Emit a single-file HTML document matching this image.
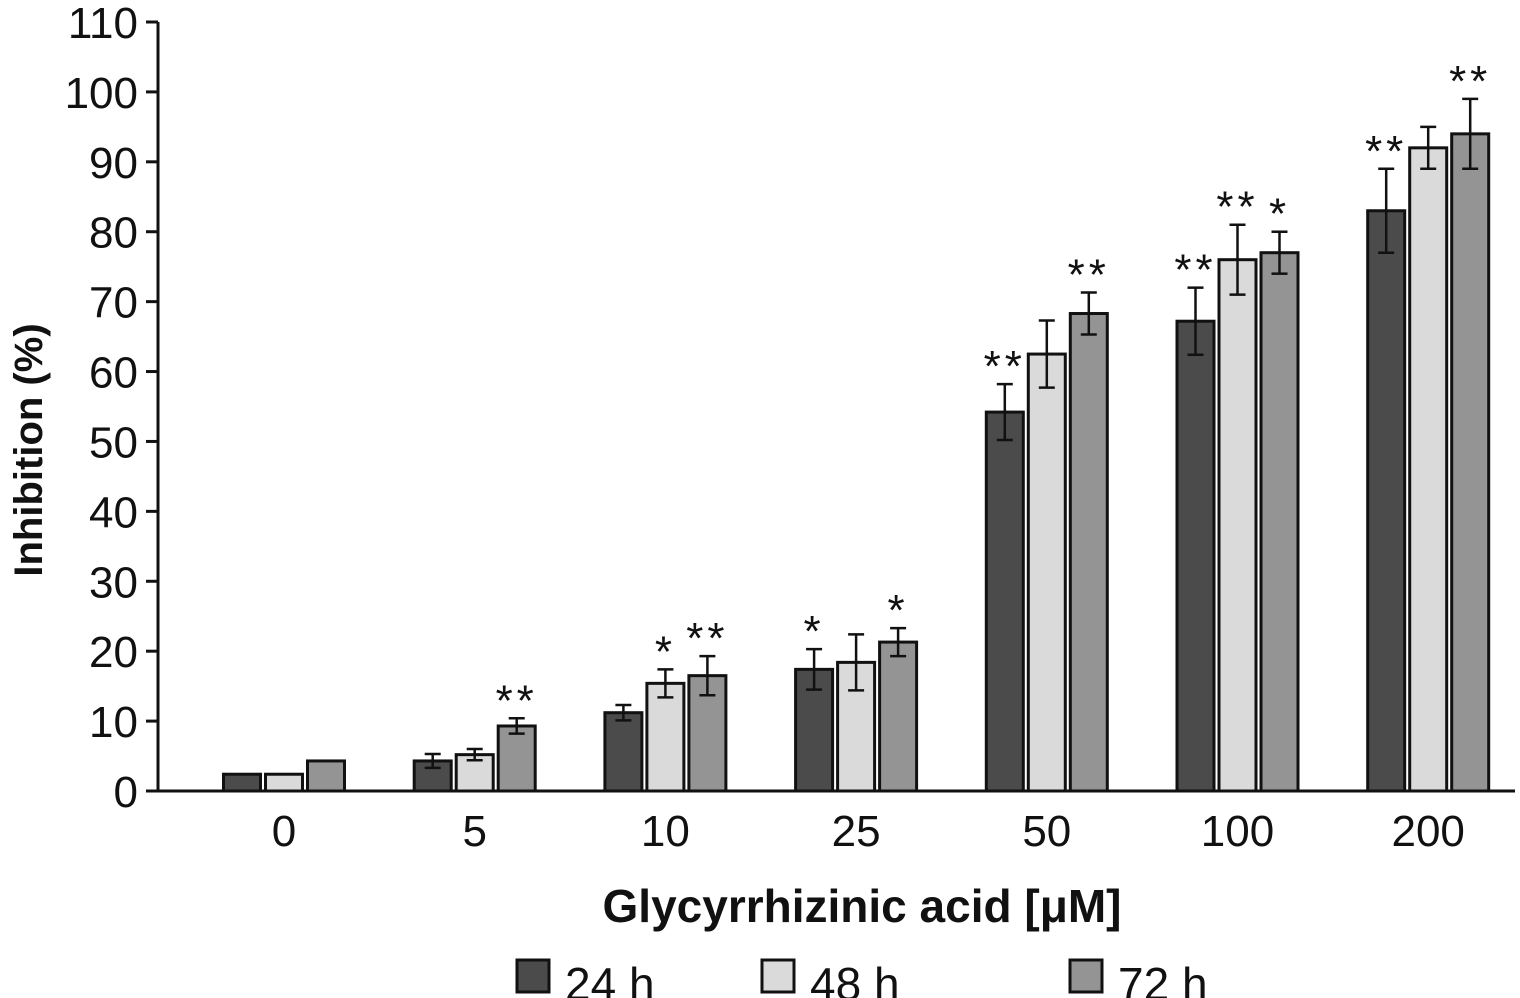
<!DOCTYPE html>
<html><head><meta charset="utf-8"><style>
html,body{margin:0;padding:0;background:#fff;width:1520px;height:998px;overflow:hidden}
svg text{font-family:"Liberation Sans","DejaVu Sans",sans-serif;fill:#111}
</style></head><body>
<svg id="chart" width="1520" height="998" viewBox="0 0 1520 998" xmlns="http://www.w3.org/2000/svg"></svg>
<script>
const categories = ["0","5","10","25","50","100","200"];
const seriesNames = ["24 h","48 h","72 h"];
const values24 = [2.4, 4.3, 11.2, 17.4, 54.2, 67.2, 83.0];
const values48 = [2.4, 5.2, 15.4, 18.4, 62.5, 76.0, 92.0];
const values72 = [4.3, 9.3, 16.5, 21.3, 68.3, 77.0, 94.0];
const err24 = [0, 1.0, 1.1, 2.9, 4.0, 4.8, 6.0];
const err48 = [0, 0.8, 2.0, 4.0, 4.8, 5.0, 3.0];
const err72 = [0, 1.1, 2.8, 2.0, 3.0, 3.0, 5.0];
const stars24 = ["", "", "", "*", "**", "**", "**"];
const stars48 = ["", "", "*", "", "", "**", ""];
const stars72 = ["", "**", "**", "*", "**", "*", "**"];
const yTicks = [0,10,20,30,40,50,60,70,80,90,100,110];

const svg = document.getElementById('chart');
const NS = "http://www.w3.org/2000/svg";
const colors = ["#4b4b4b","#dadada","#949494"];
const X0 = 158, X1 = 1515, Y0 = 791, YTOP = 22;
function y(v){ return Y0 - v*(Y0-YTOP)/110; }
function xc(i){ return 284 + i*190.7; }
const offs = [-42, 0, 42], BW = 37;
function mk(tag, attrs, parent){ const e=document.createElementNS(NS,tag); for(const k in attrs) e.setAttribute(k,attrs[k]); (parent||svg).appendChild(e); return e; }

yTicks.forEach(t=>{
  const l = mk('line',{x1:146,x2:X0,y1:y(t),y2:y(t),stroke:'#111','stroke-width':3});
  
  
  const tx = mk('text',{x:138,y:y(t)+16,'text-anchor':'end','font-size':44});
  tx.textContent = t;
  
  
});
categories.forEach((c,i)=>{
  const tx = mk('text',{x:xc(i),y:846,'text-anchor':'middle','font-size':44});
  tx.textContent = c;
  
  
});

const vals=[values24,values48,values72], errs=[err24,err48,err72], stars=[stars24,stars48,stars72];
categories.forEach((c,i)=>{
  for(let s=0;s<3;s++){
    const v=vals[s][i], e=errs[s][i], cx=xc(i)+offs[s];
    const r = mk('rect',{x:cx-BW/2,y:y(v),width:BW,height:Y0-y(v),fill:colors[s],stroke:'#111','stroke-width':3});
    
    
    if(e>0){
      const g = mk('g',{stroke:'#111','stroke-width':2.5});
      
      
      mk('line',{x1:cx,x2:cx,y1:y(v+e),y2:y(v-e)},g);
      mk('line',{x1:cx-8,x2:cx+8,y1:y(v+e),y2:y(v+e)},g);
      mk('line',{x1:cx-8,x2:cx+8,y1:y(v-e),y2:y(v-e)},g);
    }
    if(stars[s][i]){
      const st = mk('text',{x:cx,y:y(v+e)-3,'text-anchor':'middle','font-size':44,'letter-spacing':4});
      st.textContent = stars[s][i];
      
      
    }
  }
});

const ax = mk('path',{d:`M${X0} ${YTOP} V${Y0} H${X1}`,fill:'none',stroke:'#111','stroke-width':3});



const yt = mk('text',{x:0,y:0,'text-anchor':'middle','font-size':40,'font-weight':'bold',transform:'translate(42 450) rotate(-90)'});
yt.textContent='Inhibition (%)';


const xt = mk('text',{x:862,y:922,'text-anchor':'middle','font-size':46,'font-weight':'bold'});
xt.textContent='Glycyrrhizinic acid [\u03bcM]';



const legX=[517,762,1070];
seriesNames.forEach((n,s)=>{
  const g = mk('g',{});
  
  
  mk('rect',{x:legX[s],y:960,width:32,height:32,fill:colors[s],stroke:'#111','stroke-width':3},g);
  const t = mk('text',{x:legX[s]+48,y:1000,'font-size':46},g);
  t.textContent=n;
});
</script>
</body></html>
